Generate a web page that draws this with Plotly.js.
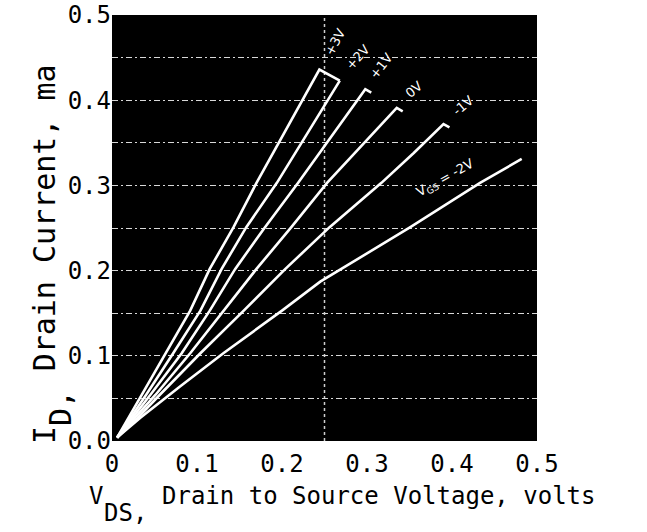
<!DOCTYPE html>
<html>
<head>
<meta charset="utf-8">
<script src="https://cdn.plot.ly/plotly-3.0.1.min.js"></script>
<style>
  html, body { margin: 0; padding: 0; background: #fff; }
  #plot { width: 647px; height: 532px; }
</style>
</head>
<body>
<div id="plot"></div>
<script>
// Drain characteristics traced on a curve tracer, one trace per gate bias.
const gateLabels = ['+3V', '+2V', '+1V', '0V', '-1V', 'V<sub>GS</sub> = -2V'];

// V_DS (volts) for each trace
const vdsP3 = [0.006, 0.035, 0.064, 0.092, 0.115, 0.143, 0.170, 0.207, 0.244, 0.268];
const vdsP2 = [0.006, 0.040, 0.072, 0.104, 0.129, 0.158, 0.194, 0.231, 0.268];
const vdsP1 = [0.006, 0.045, 0.082, 0.115, 0.145, 0.180, 0.219, 0.258, 0.298, 0.305];
const vds0  = [0.006, 0.051, 0.092, 0.131, 0.170, 0.211, 0.253, 0.294, 0.335, 0.342];
const vdsM1 = [0.006, 0.030, 0.056, 0.104, 0.155, 0.204, 0.256, 0.317, 0.355, 0.390, 0.397];
const vdsM2 = [0.006, 0.033, 0.080, 0.131, 0.200, 0.245, 0.351, 0.433, 0.482];

// I_D (ma) for each trace
const idP3 = [0.004, 0.054, 0.103, 0.153, 0.202, 0.251, 0.303, 0.370, 0.436, 0.423];
const idP2 = [0.004, 0.054, 0.103, 0.153, 0.202, 0.251, 0.303, 0.363, 0.423];
const idP1 = [0.004, 0.054, 0.103, 0.153, 0.202, 0.251, 0.303, 0.358, 0.413, 0.409];
const id0  = [0.004, 0.054, 0.103, 0.153, 0.202, 0.251, 0.303, 0.347, 0.391, 0.387];
const idM1 = [0.004, 0.027, 0.054, 0.103, 0.153, 0.202, 0.251, 0.303, 0.338, 0.372, 0.368];
const idM2 = [0.004, 0.027, 0.064, 0.103, 0.153, 0.187, 0.251, 0.303, 0.331];

// Axis ticks
const xTicks = [0, 0.1, 0.2, 0.3, 0.4, 0.5];
const yTicks = [0, 0.1, 0.2, 0.3, 0.4, 0.5];

const mono = 'DejaVu Sans Mono, Liberation Mono, monospace';
const traceLine = { color: '#ffffff', width: 2.6 };

const series = [
  [vdsP3, idP3], [vdsP2, idP2], [vdsP1, idP1],
  [vds0, id0], [vdsM1, idM1], [vdsM2, idM2]
];

const traces = series.map(([x, y], i) => ({
  type: 'scatter', mode: 'lines', x: x, y: y,
  name: gateLabels[i],
  line: traceLine,
  hoverinfo: 'x+y+name',
  showlegend: false
}));

// gate-bias tags written beside the end of each trace
const tagPos = [
  { x: 0.262, y: 0.468, a: -62 },
  { x: 0.289, y: 0.450, a: -48 },
  { x: 0.316, y: 0.440, a: -52 },
  { x: 0.355, y: 0.413, a: -40 },
  { x: 0.413, y: 0.394, a: -40 },
  { x: 0.392, y: 0.308, a: -29 }
];
const tags = tagPos.map((p, i) => ({
  x: p.x, y: p.y, xref: 'x', yref: 'y',
  text: gateLabels[i], showarrow: false, textangle: p.a,
  font: { family: 'DejaVu Sans, sans-serif', size: 13, color: '#ffffff' }
}));

// axis titles are set in pieces so the subscripts can sit lower at full size
const xFont = { family: mono, size: 24, color: '#000' };
const yFont = { family: mono, size: 30, color: '#000' };
const xCh = 24 * 0.602;   // monospace advance width
const yCh = 30 * 0.602;
const xt = { xref: 'paper', yref: 'paper', x: -0.058, y: -0.130, xanchor: 'left', yanchor: 'middle', showarrow: false, font: xFont };
const yt = { xref: 'paper', yref: 'paper', x: -0.160, y: -0.012, xanchor: 'center', yanchor: 'bottom', textangle: -90, showarrow: false, font: yFont };

const titles = [
  Object.assign({}, xt, { text: 'V' }),
  Object.assign({}, xt, { text: 'DS,', xshift: xCh, yshift: -17 }),
  Object.assign({}, xt, { text: 'Drain to Source Voltage, volts', xshift: xCh * 5 }),
  Object.assign({}, yt, { text: 'I' }),
  Object.assign({}, yt, { text: 'D,', xshift: 16, yshift: yCh }),
  Object.assign({}, yt, { text: 'Drain Current, ma', yshift: yCh * 4 })
];

const layout = {
  width: 647, height: 532,
  margin: { l: 112, r: 110, t: 15, b: 91 },
  paper_bgcolor: '#ffffff',
  plot_bgcolor: '#000000',
  showlegend: false,
  xaxis: {
    range: [0, 0.5], tickvals: xTicks, ticktext: xTicks.map(v => String(v)),
    ticks: '', showgrid: false, zeroline: false, showline: false,
    ticklabelstandoff: 6,
    tickfont: { family: mono, size: 24, color: '#000' }
  },
  yaxis: {
    range: [0, 0.5], tickvals: yTicks, ticktext: yTicks.map(v => v.toFixed(1)),
    ticks: '', zeroline: false, showline: false,
    showgrid: true, gridcolor: '#d8d8d8', gridwidth: 1, griddash: '6px,3px,2px,3px',
    minor: { dtick: 0.05, showgrid: true, gridcolor: '#d8d8d8', gridwidth: 1, griddash: '6px,3px,2px,3px' },
    tickfont: { family: mono, size: 24, color: '#000' }
  },
  shapes: [
    { type: 'line', xref: 'x', yref: 'paper', x0: 0.25, x1: 0.25, y0: 0, y1: 1,
      line: { color: '#cfcfcf', width: 1.5, dash: 'dot' }, layer: 'below' }
  ],
  annotations: tags.concat(titles)
};

Plotly.newPlot('plot', traces, layout, { displayModeBar: false, staticPlot: true });
</script>
</body>
</html>
